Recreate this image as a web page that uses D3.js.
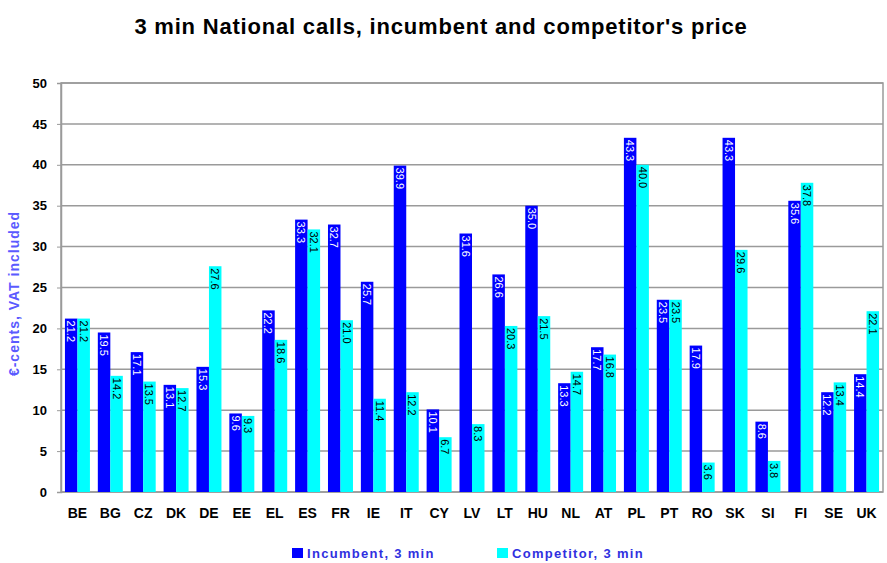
<!DOCTYPE html>
<html>
<head>
<meta charset="utf-8">
<script src="https://cdn.jsdelivr.net/npm/d3@7"></script>
<style>
body { margin: 0; background: #fff; }
text { font-family: Arial, "Liberation Sans", sans-serif; }
</style>
</head>
<body>
<div class="chart"></div>
<script>
var countries = ["BE","BG","CZ","DK","DE","EE","EL","ES","FR","IE","IT","CY","LV","LT","HU","NL","AT","PL","PT","RO","SK","SI","FI","SE","UK"]
var incumbent = [21.2,19.5,17.1,13.1,15.3,9.6,22.2,33.3,32.7,25.7,39.9,10.1,31.6,26.6,35.0,13.3,17.7,43.3,23.5,17.9,43.3,8.6,35.6,12.2,14.4]
var competitor = [21.2,14.2,13.5,12.7,27.6,9.3,18.6,32.1,21.0,11.4,12.2,6.7,8.3,20.3,21.5,14.7,16.8,40.0,23.5,3.6,29.6,3.8,37.8,13.4,22.1]
var yTicks = [0,5,10,15,20,25,30,35,40,45,50]
var seriesNames = ["Incumbent, 3 min", "Competitor, 3 min"]
var seriesColors = ["#0000ff", "#00ffff"]

var width = 887, height = 563
var margin = {top: 83, right: 4, bottom: 71, left: 61}

var svg = d3.select(".chart").append("svg")
    .attr("width", width)
    .attr("height", height)

var x = d3.scaleBand()
    .domain(countries)
    .range([margin.left, width - margin.right])
    .paddingInner(0.24)
    .paddingOuter(0.12)

var xs = d3.scaleBand()
    .domain([0, 1])
    .range([0, x.bandwidth()])

var y = d3.scaleLinear()
    .domain([0, 50])
    .range([height - margin.bottom, margin.top])

// title
svg.append("text")
    .attr("x", 441)
    .attr("y", 34)
    .attr("text-anchor", "middle")
    .style("font-size", "22px")
    .style("font-weight", "bold")
    .style("letter-spacing", "0.8px")
    .text("3 min National calls, incumbent and competitor's price")

// gridlines
svg.append("g")
    .selectAll("line")
    .data(yTicks)
    .enter().append("line")
    .attr("x1", margin.left)
    .attr("x2", width - margin.right)
    .attr("y1", function(d) { return y(d) })
    .attr("y2", function(d) { return y(d) })
    .attr("stroke", "#9a9a9a")
    .attr("stroke-width", 1.5)

// plot frame
svg.append("rect")
    .attr("x", margin.left)
    .attr("y", margin.top)
    .attr("width", width - margin.right - margin.left)
    .attr("height", y(0) - margin.top)
    .attr("fill", "none")
    .attr("stroke", "#9a9a9a")
    .attr("stroke-width", 1.5)

// y axis
var yAxis = svg.append("g")
    .attr("transform", "translate(" + margin.left + ",0)")
    .call(d3.axisLeft(y).tickValues(yTicks).tickSize(4).tickPadding(10))
yAxis.select(".domain").attr("stroke", "#9a9a9a").attr("stroke-width", 1.5)
yAxis.selectAll(".tick line").attr("stroke", "#9a9a9a")
yAxis.selectAll("text")
    .style("font-size", "13px")
    .style("font-weight", "bold")
    .attr("fill", "#000")

svg.append("text")
    .attr("transform", "translate(19," + ((margin.top + y(0)) / 2 + 6) + ") rotate(-90)")
    .attr("text-anchor", "middle")
    .style("font-size", "14px")
    .style("font-weight", "bold")
    .style("letter-spacing", "1px")
    .attr("fill", "#5a5aff")
    .text("€-cents, VAT included")

// x axis
var xAxis = svg.append("g")
    .attr("transform", "translate(0," + y(0) + ")")
    .call(d3.axisBottom(x).tickSize(0).tickPadding(16))
xAxis.select(".domain").remove()
xAxis.selectAll("text")
    .style("font-size", "14px")
    .style("font-weight", "bold")
    .attr("fill", "#000")

// bars
var rows = countries.map(function(c, i) { return {c: c, v: [incumbent[i], competitor[i]]} })

var groups = svg.append("g")
    .selectAll("g")
    .data(rows)
    .enter().append("g")
    .attr("transform", function(d) { return "translate(" + x(d.c) + ",0)" })

groups.selectAll("rect")
    .data(function(d) { return d.v.map(function(v, k) { return {k: k, v: v} }) })
    .enter().append("rect")
    .attr("x", function(d) { return xs(d.k) })
    .attr("width", xs.bandwidth())
    .attr("y", function(d) { return y(d.v) })
    .attr("height", function(d) { return y(0) - y(d.v) })
    .attr("fill", function(d) { return seriesColors[d.k] })

groups.selectAll("text")
    .data(function(d) { return d.v.map(function(v, k) { return {k: k, v: v} }) })
    .enter().append("text")
    .attr("transform", function(d) {
        return "translate(" + (xs(d.k) + xs.bandwidth() / 2 - 4) + "," + (y(d.v) + 2) + ") rotate(90)"
    })
    .style("font-size", "11px")
    .attr("fill", function(d) { return d.k == 0 ? "#fff" : "#000" })
    .text(function(d) { return d3.format(".1f")(d.v) })

// legend
var legendX = [292, 497]
var legend = svg.append("g")
    .selectAll("g")
    .data(seriesNames)
    .enter().append("g")
    .attr("transform", function(d, i) { return "translate(" + legendX[i] + ",558)" })

legend.append("rect")
    .attr("y", -10)
    .attr("width", 11)
    .attr("height", 10)
    .attr("fill", function(d, i) { return seriesColors[i] })

legend.append("text")
    .attr("x", 15)
    .attr("y", 0)
    .style("font-size", "13px")
    .style("font-weight", "bold")
    .style("letter-spacing", "1.3px")
    .attr("fill", "#3030e0")
    .text(function(d) { return d })
</script>
</body>
</html>
